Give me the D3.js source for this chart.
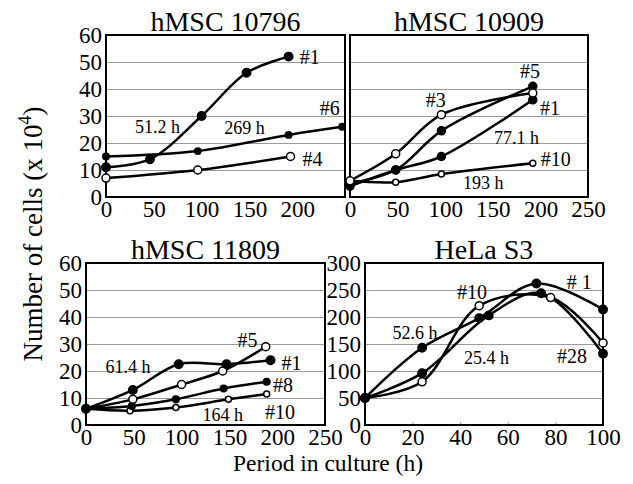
<!DOCTYPE html>
<html>
<head>
<meta charset="utf-8">
<script src="https://cdn.jsdelivr.net/npm/d3@7"></script>
<style>
    body { margin: 0; background: #fff; }
    .grid line { stroke: #9a9a9a; stroke-width: 1; }
    .grid path { display: none; }
    .tick-labels path { display: none; }
</style>
</head>
<body>
<svg class="chart"></svg>
<script>
'use strict';

var SERIF = '"Liberation Serif", "DejaVu Serif", serif';

// ---- data (hours, cells x 10^4) ----

// hMSC 10796
var a_hours1 = [0, 46, 100, 147, 191],  a_cells1 = [11, 14, 30, 46, 52];
var a_hours6 = [0, 96, 191, 247],       a_cells6 = [15, 17, 23, 26];
var a_hours4 = [0, 96, 193],            a_cells4 = [7, 10, 15];

// hMSC 10909
var b_hours = [0, 48, 96, 192];
var b_cells3  = [6, 16, 30.5, 38.5];
var b_cells5  = [5, 10, 24.5, 41];
var b_cells1  = [4, 10, 15, 36];
var b_cells10 = [6, 5.5, 8.5, 12.5];

// hMSC 11809
var c_hours1  = [0, 49, 97, 147, 193], c_cells1  = [6, 13, 22.5, 22.5, 24];
var c_hours5  = [0, 49, 100, 143, 188], c_cells5  = [6, 9.5, 15, 20, 29];
var c_hours8  = [0, 48, 94, 144, 189], c_cells8  = [6, 7, 9.5, 13.5, 16];
var c_hours10 = [0, 46, 94, 149, 189], c_cells10 = [6, 5.3, 6.5, 9.5, 11.5];

// HeLa S3
var d_hours1  = [0, 24, 48, 72, 100], d_cells1  = [50, 143, 198, 262, 214];
var d_hours28 = [0, 24, 52, 74, 100], d_cells28 = [50, 96, 203, 244, 132];
var d_hours10 = [0, 24, 48, 78, 100], d_cells10 = [50, 80, 221, 236, 152];

// tick values
var msTicksY = [0, 10, 20, 30, 40, 50, 60];
var msTicksX = [0, 50, 100, 150, 200, 250];
var helaTicksY = [0, 50, 100, 150, 200, 250, 300];
var helaTicksX = [0, 20, 40, 60, 80, 100];

function zip(xs, ys) { return xs.map(function (x, i) { return { x: x, y: ys[i] }; }); }

var svg = d3.select('.chart').attr('width', 633).attr('height', 484)
    .attr('font-family', SERIF);

// draws one framed panel
function panel(cfg) {
    var x = d3.scaleLinear().domain(cfg.xDomain).range([cfg.left, cfg.right]);
    var y = d3.scaleLinear().domain(cfg.yDomain).range([cfg.bottom, cfg.top]);
    var w = cfg.right - cfg.left;
    var g = svg.append('g');

    // horizontal grid
    g.append('g').attr('class', 'grid')
        .attr('transform', 'translate(' + cfg.left + ',0)')
        .call(d3.axisLeft(y).tickValues(cfg.yTicks.slice(1, -1)).tickSize(-w).tickFormat(''));

    if (cfg.innerTicks) {
        g.append('g').attr('class', 'grid')
            .attr('transform', 'translate(0,' + cfg.bottom + ')')
            .call(d3.axisTop(x).tickValues(cfg.xTicks.slice(1, -1)).tickSize(3).tickFormat(''));
    }

    // tick labels
    var axes = [];
    if (cfg.showY) {
        axes.push(g.append('g').attr('class', 'tick-labels')
            .attr('transform', 'translate(' + cfg.left + ',0)')
            .call(d3.axisLeft(y).tickValues(cfg.yTicks).tickSize(0).tickPadding(4)));
    }
    axes.push(g.append('g').attr('class', 'tick-labels')
        .attr('transform', 'translate(0,' + cfg.bottom + ')')
        .call(d3.axisBottom(x).tickValues(cfg.xLabels).tickSize(0).tickPadding(4)));
    axes.forEach(function (a) {
        a.attr('font-family', SERIF).attr('font-size', 23);
        a.selectAll('text').attr('fill', '#000');
    });

    // frame
    g.append('rect')
        .attr('x', cfg.left).attr('y', cfg.top)
        .attr('width', w).attr('height', cfg.bottom - cfg.top)
        .attr('fill', 'none').attr('stroke', '#000').attr('stroke-width', 2);

    // title
    g.append('text')
        .attr('x', (cfg.left + cfg.right) / 2).attr('y', cfg.top - 4)
        .attr('text-anchor', 'middle').attr('font-size', 28)
        .text(cfg.title);

    var line = d3.line()
        .x(function (d) { return x(d.x); })
        .y(function (d) { return y(d.y); })
        .curve(d3.curveCatmullRom.alpha(0.5));

    cfg.series.forEach(function (s) {
        g.append('path').datum(s.pts)
            .attr('d', line).attr('fill', 'none')
            .attr('stroke', '#000').attr('stroke-width', 2.5);
    });
    cfg.series.forEach(function (s) {
        g.selectAll(null).data(s.pts).enter().append('circle')
            .attr('cx', function (d) { return x(d.x); })
            .attr('cy', function (d) { return y(d.y); })
            .attr('r', s.r)
            .attr('fill', s.open ? '#fff' : '#000')
            .attr('stroke', '#000').attr('stroke-width', 1.5);
    });

    // "#n" labels a bit larger than the doubling-time labels
    cfg.notes.forEach(function (n) {
        g.append('text')
            .attr('x', x(n[1])).attr('y', y(n[2]))
            .attr('dy', '0.35em').attr('text-anchor', 'middle')
            .attr('font-size', n[0].charAt(0) === '#' ? 20 : 18)
            .text(n[0]);
    });
}

panel({
    title: 'hMSC 10796', left: 106, right: 345, top: 35, bottom: 197,
    xDomain: [0, 250], yDomain: [0, 60], xTicks: msTicksX, yTicks: msTicksY,
    xLabels: msTicksX.slice(0, 5), showY: true,
    series: [
        { pts: zip(a_hours4, a_cells4), r: 4, open: true },
        { pts: zip(a_hours6, a_cells6), r: 3.2 },
        { pts: zip(a_hours1, a_cells1), r: 4.2 }
    ],
    notes: [['#1', 213, 52], ['#6', 234, 33], ['#4', 216, 14], ['51.2 h', 54, 26], ['269 h', 145, 25.5]]
});

panel({
    title: 'hMSC 10909', left: 350, right: 588, top: 35, bottom: 197,
    xDomain: [0, 250], yDomain: [0, 60], xTicks: msTicksX, yTicks: msTicksY,
    xLabels: msTicksX, showY: false,
    series: [
        { pts: zip(b_hours, b_cells10), r: 3, open: true },
        { pts: zip(b_hours, b_cells1), r: 4 },
        { pts: zip(b_hours, b_cells5), r: 4 },
        { pts: zip(b_hours, b_cells3), r: 4, open: true }
    ],
    notes: [['#3', 90, 36], ['#5', 189, 46.6], ['#1', 210, 32.8], ['77.1 h', 175, 22],
            ['#10', 216, 14.2], ['193 h', 140, 5.2]]
});

panel({
    title: 'hMSC 11809', left: 86, right: 325, top: 263, bottom: 425,
    xDomain: [0, 250], yDomain: [0, 60], xTicks: msTicksX, yTicks: msTicksY,
    xLabels: msTicksX, showY: true,
    series: [
        { pts: zip(c_hours10, c_cells10), r: 3, open: true },
        { pts: zip(c_hours8, c_cells8), r: 3.3 },
        { pts: zip(c_hours5, c_cells5), r: 4, open: true },
        { pts: zip(c_hours1, c_cells1), r: 4.2 }
    ],
    notes: [['61.4 h', 44, 21.5], ['#5', 169, 31.5], ['#1', 215, 23], ['#8', 206, 14.8],
            ['#10', 203, 5], ['164 h', 143, 3.8]]
});

panel({
    title: 'HeLa S3', left: 365, right: 603, top: 263, bottom: 425,
    xDomain: [0, 100], yDomain: [0, 300], xTicks: helaTicksX, yTicks: helaTicksY,
    xLabels: helaTicksX, showY: true, innerTicks: true,
    series: [
        { pts: zip(d_hours10, d_cells10), r: 4, open: true },
        { pts: zip(d_hours28, d_cells28), r: 4.2 },
        { pts: zip(d_hours1, d_cells1), r: 4.2 }
    ],
    notes: [['#10', 45, 247], ['# 1', 90, 264], ['52.6 h', 21, 171], ['25.4 h', 51, 125], ['#28', 87, 127]]
});

// shared axis titles
svg.append('text')
    .attr('x', 328).attr('y', 471)
    .attr('text-anchor', 'middle').attr('font-size', 23.5)
    .text('Period in culture (h)');

var yt = svg.append('text')
    .attr('transform', 'translate(42,234) rotate(-90)')
    .attr('text-anchor', 'middle').attr('font-size', 27);
yt.append('tspan').text('Number of cells (x 10');
yt.append('tspan').attr('font-size', 18).attr('dy', -11).text('4');
yt.append('tspan').attr('dy', 11).text(')');
</script>
</body>
</html>
